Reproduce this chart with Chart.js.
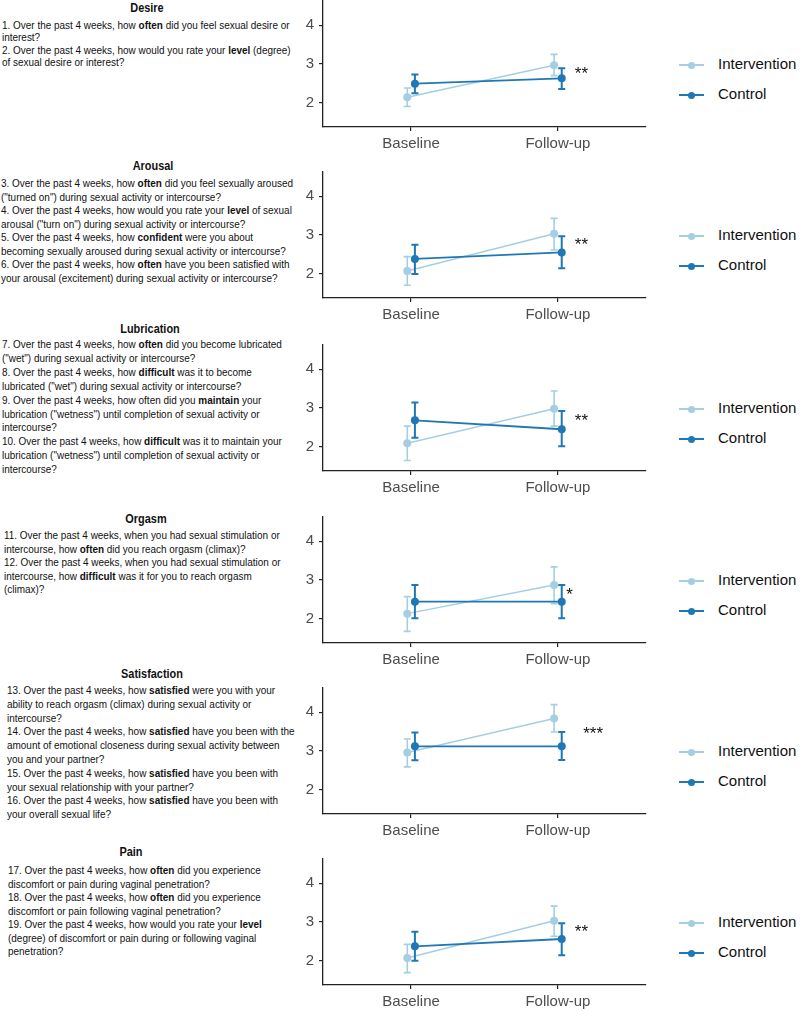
<!DOCTYPE html>
<html>
<head>
<meta charset="utf-8">
<script src="https://cdn.jsdelivr.net/npm/chart.js@4.4.1/dist/chart.umd.min.js"></script>
<style>
  html, body { margin: 0; padding: 0; background: #fff; }
  body { width: 800px; height: 1011px; overflow: hidden; position: relative; }
  canvas.panel { position: absolute; left: 295px; }
  .title { position: absolute; width: 200px; text-align: center; color: #111;
           font: bold 13px "Liberation Sans", Arial, sans-serif;
           transform: scaleX(0.84); transform-origin: 50% 50%; }
  .item { position: absolute; white-space: nowrap; color: #111;
          font: 11.5px "Liberation Sans", Arial, sans-serif;
          transform: scaleX(0.865); transform-origin: 0 50%; }
  .leg { position: absolute; left: 679px; height: 20px; width: 121px; }
  .leg .ln  { position: absolute; left: 0; top: 9px; width: 25px; height: 2px; }
  .leg .dot { position: absolute; left: 9px; top: 6.5px; width: 7px; height: 7px; border-radius: 50%; }
  .leg .tx  { position: absolute; left: 39px; top: 0; line-height: 20px; color: #111;
              font: 15px "Liberation Sans", Arial, sans-serif; }
</style>
</head>
<body>
<script>
'use strict';

// ── DATA ──
const timeLabels = ['Baseline', 'Follow-up'];
const seriesNames = ['Intervention', 'Control'];
const domains = ['Desire', 'Arousal', 'Lubrication', 'Orgasm', 'Satisfaction', 'Pain'];
const yTicks = [2, 3, 4];

// mean score [baseline, follow-up] per domain
const intMean = [[2.14, 2.97], [2.07, 3.03], [2.09, 2.98], [2.13, 2.87], [2.96, 3.84], [2.07, 3.03]];
const intLow  = [[1.90, 2.70], [1.70, 2.61], [1.64, 2.53], [1.67, 2.39], [2.59, 3.49], [1.69, 2.63]];
const intHigh = [[2.38, 3.25], [2.44, 3.43], [2.53, 3.44], [2.57, 3.34], [3.31, 4.20], [2.42, 3.41]];
const ctlMean = [[2.49, 2.63], [2.38, 2.55], [2.68, 2.45], [2.44, 2.44], [3.12, 3.12], [2.37, 2.56]];
const ctlLow  = [[2.24, 2.35], [1.99, 2.14], [2.23, 2.01], [2.01, 2.01], [2.76, 2.77], [2.00, 2.14]];
const ctlHigh = [[2.73, 2.89], [2.75, 2.97], [3.14, 2.92], [2.87, 2.87], [3.48, 3.49], [2.75, 2.97]];

// significance markers next to follow-up
const sigText = ['**', '**', '**', '*', '***', '**'];
const sigX    = [2.16, 2.16, 2.16, 2.08, 2.24, 2.16];
const sigY    = [2.85, 2.87, 2.78, 2.73, 3.56, 2.86];

// questionnaire items shown left of each panel
const items = [
  ['1. Over the past 4 weeks, how <b>often</b> did you feel sexual desire or',
   'interest?',
   '2. Over the past 4 weeks, how would you rate your <b>level</b> (degree)',
   'of sexual desire or interest?'],
  ['3. Over the past 4 weeks, how <b>often</b> did you feel sexually aroused',
   '("turned on") during sexual activity or intercourse?',
   '4. Over the past 4 weeks, how would you rate your <b>level</b> of sexual',
   'arousal ("turn on") during sexual activity or intercourse?',
   '5. Over the past 4 weeks, how <b>confident</b> were you about',
   'becoming sexually aroused during sexual activity or intercourse?',
   '6. Over the past 4 weeks, how <b>often</b> have you been satisfied with',
   'your arousal (excitement) during sexual activity or intercourse?'],
  ['7. Over the past 4 weeks, how <b>often</b> did you become lubricated',
   '("wet") during sexual activity or intercourse?',
   '8. Over the past 4 weeks, how <b>difficult</b> was it to become',
   'lubricated ("wet") during sexual activity or intercourse?',
   '9. Over the past 4 weeks, how often did you <b>maintain</b> your',
   'lubrication ("wetness") until completion of sexual activity or',
   'intercourse?',
   '10. Over the past 4 weeks, how <b>difficult</b> was it to maintain your',
   'lubrication ("wetness") until completion of sexual activity or',
   'intercourse?'],
  ['11. Over the past 4 weeks, when you had sexual stimulation or',
   'intercourse, how <b>often</b> did you reach orgasm (climax)?',
   '12. Over the past 4 weeks, when you had sexual stimulation or',
   'intercourse, how <b>difficult</b> was it for you to reach orgasm',
   '(climax)?'],
  ['13. Over the past 4 weeks, how <b>satisfied</b> were you with your',
   'ability to reach orgasm (climax) during sexual activity or',
   'intercourse?',
   '14. Over the past 4 weeks, how <b>satisfied</b> have you been with the',
   'amount of emotional closeness during sexual activity between',
   'you and your partner?',
   '15. Over the past 4 weeks, how <b>satisfied</b> have you been with',
   'your sexual relationship with your partner?',
   '16. Over the past 4 weeks, how <b>satisfied</b> have you been with',
   'your overall sexual life?'],
  ['17. Over the past 4 weeks, how <b>often</b> did you experience',
   'discomfort or pain during vaginal penetration?',
   '18. Over the past 4 weeks, how <b>often</b> did you experience',
   'discomfort or pain following vaginal penetration?',
   '19. Over the past 4 weeks, how would you rate your <b>level</b>',
   '(degree) of discomfort or pain during or following vaginal',
   'penetration?'],
];

// ── LAYOUT ──
const AXIS_Y    = [127, 298, 471, 643, 814, 985];   // x-axis line of each panel
const TITLE_Y   = [8, 166, 329, 519, 674, 852];
const TITLE_X   = [147, 153, 150, 146, 152, 131];
const ITEM_Y    = [25, 183, 344, 535, 690, 870];    // centre of first item line
const ITEM_STEP = [12.4, 13.5, 13.9, 13.5, 13.8, 13.5];
const ITEM_X    = [2, 1, 2, 4, 7, 8];

const LIGHT = '#a6cee3';
const DARK  = '#1f78b4';
const DODGE = 0.026;
const AXIS_COLOR = '#222';
const TICK_COLOR = '#4d4d4d';

// ── PLUGIN: error bars + significance stars ──
const errorBars = {
  id: 'errorBars',
  beforeDatasetDraw(chart, args) {
    const ds = chart.data.datasets[args.index];
    const xs = chart.scales.x, ys = chart.scales.y;
    const ctx = chart.ctx;
    ctx.save();
    ctx.strokeStyle = ds.borderColor;
    ctx.lineWidth = ds.barWidth;
    ds.data.forEach((p, i) => {
      const x  = xs.getPixelForValue(p.x);
      const y1 = ys.getPixelForValue(ds.low[i]);
      const y2 = ys.getPixelForValue(ds.high[i]);
      ctx.beginPath();
      ctx.moveTo(x, y1); ctx.lineTo(x, y2);
      ctx.moveTo(x - 3.5, y1); ctx.lineTo(x + 3.5, y1);
      ctx.moveTo(x - 3.5, y2); ctx.lineTo(x + 3.5, y2);
      ctx.stroke();
    });
    ctx.restore();
  },
  afterDraw(chart) {
    const n = chart.options.plugins.errorBars.panel;
    const ctx = chart.ctx;
    const fs = 17;
    ctx.save();
    ctx.fillStyle = '#111';
    ctx.font = fs + 'px "Liberation Sans", Arial, sans-serif';
    ctx.textAlign = 'center';
    ctx.textBaseline = 'alphabetic';
    ctx.fillText(sigText[n],
      chart.scales.x.getPixelForValue(sigX[n]),
      chart.scales.y.getPixelForValue(sigY[n]) + 0.57 * fs);
    ctx.restore();
  }
};

function makeSeries(mean, low, high, sign) {
  return {
    data: mean.map((v, i) => ({ x: i + 1 + sign * DODGE, y: v })),
    low, high
  };
}

function makePanel(n) {
  const cv = document.createElement('canvas');
  cv.className = 'panel';
  cv.width = 360; cv.height = 171;
  cv.style.width = '360px'; cv.style.height = '171px';
  cv.style.top = (AXIS_Y[n] - 145) + 'px';
  document.body.appendChild(cv);

  const iv = makeSeries(intMean[n], intLow[n], intHigh[n], -1);
  const ct = makeSeries(ctlMean[n], ctlLow[n], ctlHigh[n], +1);

  new Chart(cv, {
    type: 'line',
    data: {
      datasets: [
        { label: seriesNames[0], data: iv.data, low: iv.low, high: iv.high,
          borderColor: LIGHT, backgroundColor: LIGHT, borderWidth: 1.5, barWidth: 1.6,
          pointRadius: 4, pointBorderWidth: 0, pointBackgroundColor: LIGHT, order: 2 },
        { label: seriesNames[1], data: ct.data, low: ct.low, high: ct.high,
          borderColor: DARK, backgroundColor: DARK, borderWidth: 1.8, barWidth: 2,
          pointRadius: 4, pointBorderWidth: 0, pointBackgroundColor: DARK, order: 1 },
      ]
    },
    options: {
      responsive: false,
      animation: false,
      layout: { padding: { top: 19, right: 9, left: 0, bottom: 0 } },
      plugins: {
        legend: { display: false },
        tooltip: { enabled: false },
        errorBars: { panel: n }
      },
      scales: {
        x: {
          type: 'linear', min: 0.4, max: 2.6,
          afterBuildTicks: s => { s.ticks = [1, 2].map(v => ({ value: v })); },
          afterFit: s => { s.height = 26; },
          border: { display: true, color: AXIS_COLOR, width: 1.3 },
          grid: { drawOnChartArea: false, drawTicks: true, tickLength: 4, color: AXIS_COLOR, lineWidth: 1.2 },
          ticks: {
            autoSkip: false, maxRotation: 0, padding: 4, color: TICK_COLOR,
            font: { family: '"Liberation Sans", Arial, sans-serif', size: 15 },
            callback: v => timeLabels[v - 1]
          }
        },
        y: {
          type: 'linear', min: 1.37, max: 4.63,
          afterBuildTicks: s => { s.ticks = yTicks.map(v => ({ value: v })); },
          afterFit: s => { s.width = 28; },
          border: { display: true, color: AXIS_COLOR, width: 1.3 },
          grid: { drawOnChartArea: false, drawTicks: true, tickLength: 4, color: AXIS_COLOR, lineWidth: 1.2 },
          ticks: {
            padding: 5, color: TICK_COLOR,
            font: { family: '"Liberation Sans", Arial, sans-serif', size: 15 }
          }
        }
      }
    },
    plugins: [errorBars]
  });
}

function makeText(n) {
  const t = document.createElement('div');
  t.className = 'title';
  t.textContent = domains[n];
  t.style.left = (TITLE_X[n] - 100) + 'px';
  t.style.top = (TITLE_Y[n] - 8) + 'px';
  document.body.appendChild(t);

  items[n].forEach((line, i) => {
    const d = document.createElement('div');
    d.className = 'item';
    d.innerHTML = line;
    d.style.left = ITEM_X[n] + 'px';
    d.style.top = (ITEM_Y[n] + i * ITEM_STEP[n] - 7) + 'px';
    d.style.lineHeight = '14px';
    document.body.appendChild(d);
  });
}

function makeLegend(n) {
  [LIGHT, DARK].forEach((col, i) => {
    const row = document.createElement('div');
    row.className = 'leg';
    row.style.top = (AXIS_Y[n] - 62 + i * 30 - 10) + 'px';
    row.innerHTML = `<div class="ln" style="background:${col}"></div>` +
                    `<div class="dot" style="background:${col}"></div>` +
                    `<div class="tx">${seriesNames[i]}</div>`;
    document.body.appendChild(row);
  });
}

// ── INIT ──
domains.forEach((_, n) => {
  makeText(n);
  makePanel(n);
  makeLegend(n);
});
</script>
</body>
</html>
